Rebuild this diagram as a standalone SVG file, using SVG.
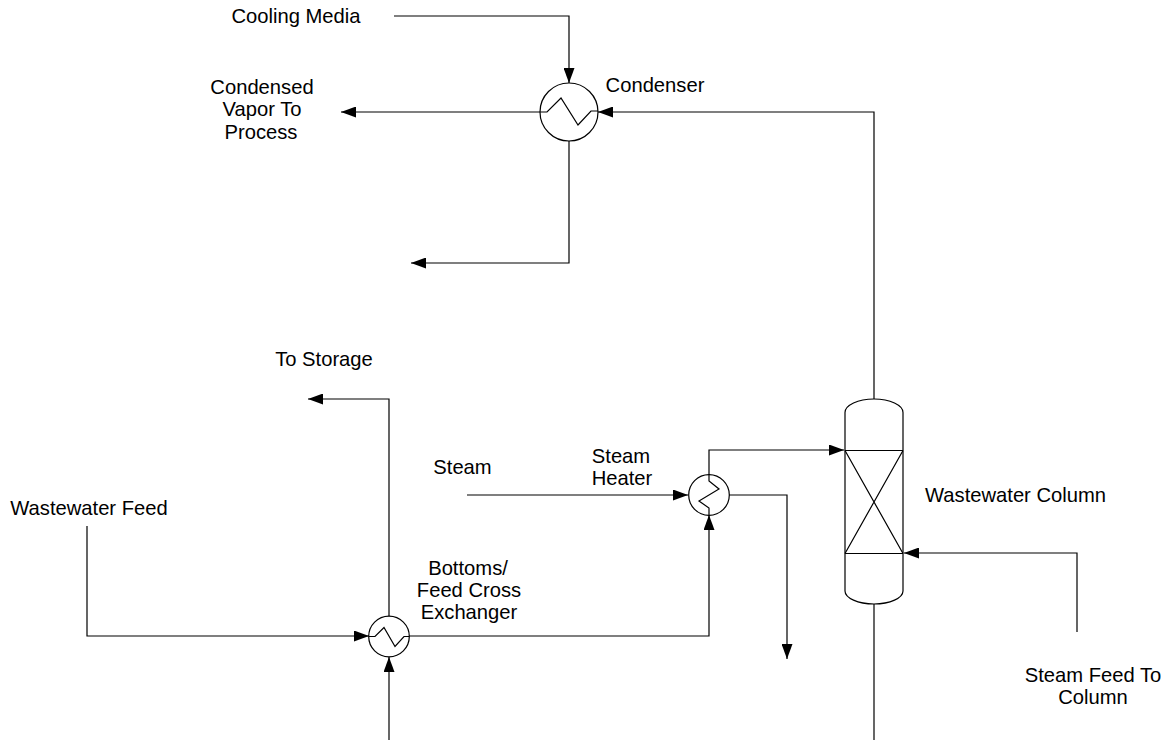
<svg xmlns="http://www.w3.org/2000/svg" width="1166" height="740" viewBox="0 0 1166 740">
<style>
.l{fill:none;stroke:#000;stroke-width:1.2}
.t{font-family:"Liberation Sans",Arial,sans-serif;font-size:20.2px;fill:#000;text-anchor:middle}
</style>
<defs>
<marker id="a" viewBox="0 0 15 11" refX="15" refY="5.5" markerWidth="15" markerHeight="11" markerUnits="userSpaceOnUse" orient="auto"><path d="M0 0L15 5.5L0 11Z" fill="#000"/></marker>
</defs>
<rect width="1166" height="740" fill="#fff"/>
<g id="connectors">
<path class="l" marker-end="url(#a)" d="M394 16H569V83"/>
<path class="l" marker-end="url(#a)" d="M540 112H341"/>
<path class="l" marker-end="url(#a)" d="M569 141V263H411"/>
<path class="l" marker-end="url(#a)" d="M874 399V112H598"/>
<path class="l" marker-end="url(#a)" d="M389 616V399H308"/>
<path class="l" marker-end="url(#a)" d="M87 526V636H369"/>
<path class="l" marker-end="url(#a)" d="M389 740V657"/>
<path class="l" marker-end="url(#a)" d="M409 636H709V515"/>
<path class="l" marker-end="url(#a)" d="M467 495H688"/>
<path class="l" marker-end="url(#a)" d="M709 475V450H844"/>
<path class="l" marker-end="url(#a)" d="M729 495H787V659"/>
<path class="l" marker-end="url(#a)" d="M1077 632V553H904"/>
<path class="l" d="M874 604V740"/>
</g>
<g id="condenser">
<circle class="l" cx="569" cy="112" r="29"/>
<path class="l" d="M540 112H547L561 98L578 125L591 111H598"/>
<text class="t" x="655" y="92">Condenser</text>
</g>
<g id="cross-exchanger">
<circle class="l" cx="389" cy="636.5" r="20.3"/>
<path class="l" d="M369 636.5H375L384 627.5L395 646.5L404 636.5H409"/>
<text class="t"><tspan x="468" y="575">Bottoms/</tspan><tspan x="469" y="597">Feed Cross</tspan><tspan x="469" y="619">Exchanger</tspan></text>
</g>
<g id="steam-heater">
<circle class="l" cx="709" cy="495" r="20.3"/>
<path class="l" d="M709 475V481L719 489L699 501L709 508V515"/>
<text class="t"><tspan x="621" y="463">Steam</tspan><tspan x="622" y="485">Heater</tspan></text>
</g>
<g id="wastewater-column">
<path class="l" d="M845 412.5C845 405 858 399 874 399C890 399 903 405 903 412.5V591C903 598 890 604 874 604C858 604 845 598 845 591Z"/>
<path class="l" d="M845 450.5H903M845 553.5H903M845 450.5L903 553.5M903 450.5L845 553.5"/>
<text class="t" x="1015.5" y="502">Wastewater Column</text>
</g>
<g id="labels">
<text class="t" x="296" y="23">Cooling Media</text>
<text class="t"><tspan x="262" y="94">Condensed</tspan><tspan x="262" y="116">Vapor To</tspan><tspan x="261" y="139">Process</tspan></text>
<text class="t" x="324" y="366">To Storage</text>
<text class="t" x="462.5" y="474">Steam</text>
<text class="t" x="89" y="515">Wastewater Feed</text>
<text class="t"><tspan x="1093" y="682">Steam Feed To</tspan><tspan x="1093" y="704">Column</tspan></text>
</g>
</svg>
